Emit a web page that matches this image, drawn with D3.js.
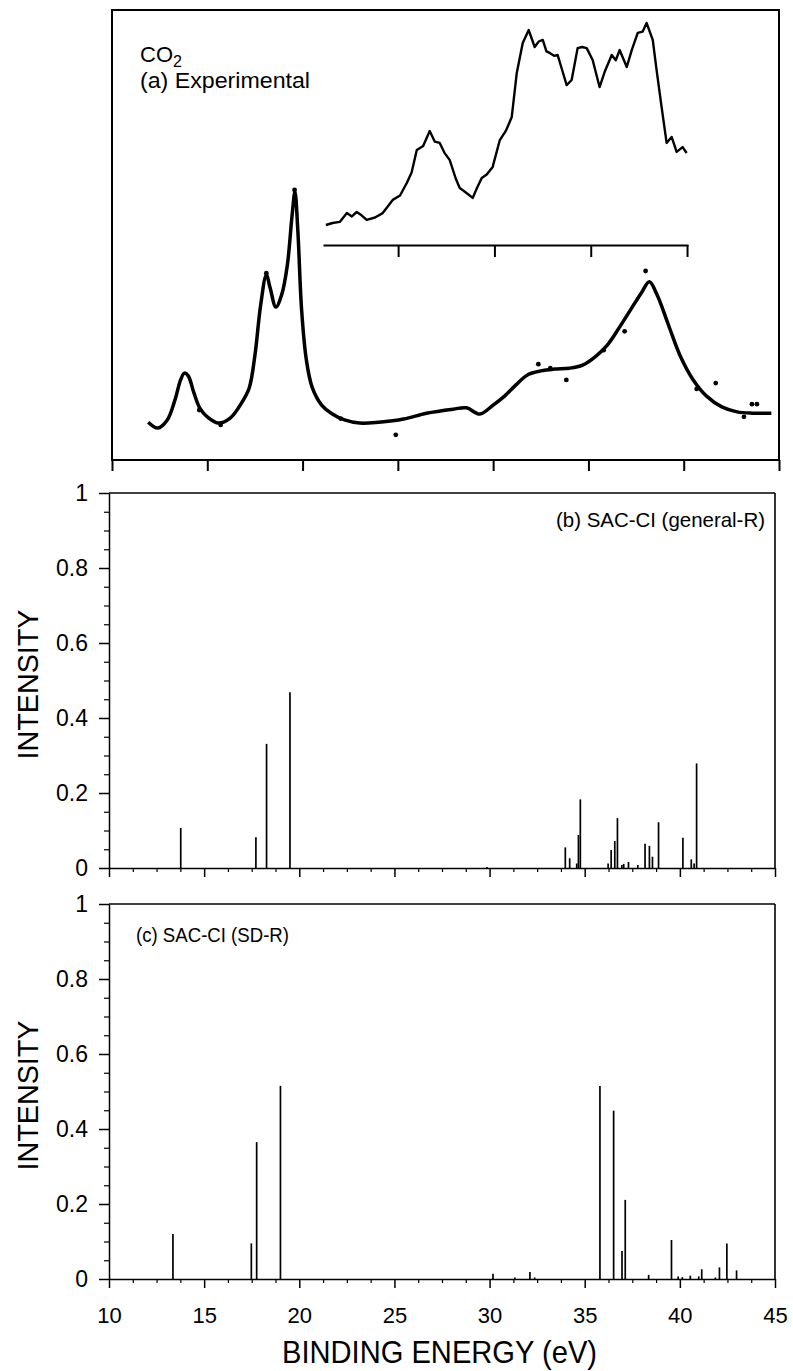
<!DOCTYPE html>
<html><head><meta charset="utf-8">
<script src="https://cdn.jsdelivr.net/npm/d3@7"></script>
<style>
body{margin:0;background:#fff}
svg{display:block}
text{font-family:"Liberation Sans",Arial,Helvetica,sans-serif;fill:#000}
</style>
</head><body>
<svg id="chart" width="793" height="1371"></svg>
<script>
// ---------- DATA ----------
// (a) experimental main curve: binding energy (eV), intensity (arb. units)
const expE = [11.9,12.4,12.9,13.3,13.6,13.8,14.0,14.3,14.6,15.0,15.6,16.2,16.8,17.2,17.5,17.8,18.1,18.3,18.6,18.9,19.2,19.45,19.6,19.75,19.95,20.2,20.5,21.0,21.5,22.2,23.0,24.0,25.3,26.5,27.9,28.6,29.3,30.0,30.6,31.2,31.8,32.5,33.2,34.0,34.7,35.4,36.0,36.6,37.2,37.8,38.2,38.6,39.2,39.8,40.5,41.2,42.0,42.8,43.6,44.6];
const expI = [8.4,7.1,8.9,13.3,17.8,19.3,18.7,14.9,11.6,9.6,8.2,9.3,12.7,16.0,23.3,34.4,41.1,38.2,34.0,36.7,43.3,54.4,59.6,51.1,33.3,22.2,16.2,12.2,10.4,8.9,8.2,8.4,9.1,10.4,11.3,11.6,10.2,12.2,14.2,16.7,18.9,19.8,20.2,20.4,21.1,23.1,25.6,29.3,33.3,37.3,39.6,36.7,30.0,23.3,17.8,14.2,11.8,10.7,10.4,10.4];
// (a) scattered measured points
const dotE = [19.58,14.58,24.89,32.37,33.84,38.0,40.68,41.68,43.58,43.84,43.16,33.0,35.8,15.7,18.1,22.0,36.9];
const dotI = [60.0,11.1,5.6,21.3,17.8,42.0,15.8,17.1,12.4,12.4,9.6,20.4,24.4,7.8,41.5,9.2,28.6];
// (a) inset curve
const insE = [21.25,21.6,21.97,22.34,22.6,22.85,23.1,23.37,23.8,24.2,24.72,25.1,25.45,25.7,25.97,26.3,26.64,26.9,27.16,27.4,27.68,28.0,28.2,28.5,28.87,29.1,29.34,29.6,29.91,30.28,30.6,30.9,31.16,31.47,31.78,32.09,32.3,32.51,32.7,32.87,33.1,33.28,33.5,33.75,34.01,34.32,34.55,34.79,35.1,35.46,35.72,36.09,36.3,36.5,36.87,37.13,37.44,37.7,37.9,38.22,38.42,38.68,38.94,39.2,39.46,39.77,39.98];
const insI = [9.1,10.0,10.5,14.5,13.0,15.0,13.5,11.4,12.5,14.5,20.5,22.5,28.2,33.0,43.2,45.0,51.8,47.0,46.4,42.0,38.6,30.0,25.9,24.0,21.4,26.0,30.5,32.0,35.5,47.7,52.0,58.2,78.2,91.8,97.7,90.0,92.5,93.2,88.0,87.3,86.0,86.4,80.0,72.7,75.0,89.5,90.0,89.5,84.1,71.8,78.6,86.4,84.0,88.6,80.9,88.6,96.4,97.0,100.9,93.2,79.5,62.7,46.4,49.1,42.3,44.5,41.8];
const insTicks = [25,30,35,40];
// (b) SAC-CI (general-R)
const genE = [13.77,17.72,18.28,19.51,29.86,33.98,34.21,34.58,34.67,34.77,36.23,36.39,36.58,36.72,36.95,37.05,37.3,37.79,38.17,38.4,38.56,38.88,40.16,40.6,40.75,40.88];
const genI = [0.107,0.082,0.331,0.469,0.003,0.055,0.026,0.012,0.088,0.183,0.012,0.048,0.072,0.133,0.008,0.011,0.016,0.008,0.065,0.059,0.030,0.122,0.081,0.023,0.012,0.279];
// (c) SAC-CI (SD-R)
const sdE = [13.36,17.48,17.76,19.01,30.18,31.33,32.12,32.37,35.8,36.52,36.96,37.13,38.36,39.56,39.91,40.13,40.55,40.99,41.15,41.87,42.08,42.47,42.98];
const sdI = [0.12,0.095,0.365,0.515,0.014,0.004,0.019,0.004,0.515,0.449,0.075,0.211,0.011,0.104,0.007,0.005,0.009,0.007,0.026,0.004,0.031,0.095,0.023];
// ticks
const xMajor = [10,15,20,25,30,35,40,45];
const xMinor = [11.25,12.5,13.75,16.25,17.5,18.75,21.25,22.5,23.75,26.25,27.5,28.75,31.25,32.5,33.75,36.25,37.5,38.75,41.25,42.5,43.75];
const yMajor = [0,0.2,0.4,0.6,0.8,1];
const yMinor = [0.05,0.1,0.15,0.25,0.3,0.35,0.45,0.5,0.55,0.65,0.7,0.75,0.85,0.9,0.95];

// ---------- DRAW ----------
const svg = d3.select("#chart");

// Panel (a)
const xA = d3.scaleLinear().domain([10,45]).range([112,779]);
const yA = d3.scaleLinear().domain([0,100]).range([460,10]);
svg.append("rect").attr("x",112).attr("y",10).attr("width",667).attr("height",450)
  .attr("fill","none").attr("stroke","#000").attr("stroke-width",2);
const axA = svg.append("g").attr("transform","translate(0,460)")
  .call(d3.axisBottom(xA).tickValues(xMajor).tickSize(11).tickSizeOuter(0).tickFormat(""));
axA.select(".domain").remove();
axA.selectAll("line").attr("stroke","#000").attr("stroke-width",2);

const expData = expE.map((e,i)=>[e,expI[i]]);
svg.append("path").datum(expData)
  .attr("d", d3.line().x(d=>xA(d[0])).y(d=>yA(d[1])).curve(d3.curveCatmullRom))
  .attr("fill","none").attr("stroke","#000").attr("stroke-width",3.5).attr("stroke-linejoin","round");
svg.append("g").selectAll("circle").data(dotE.map((e,i)=>[e,dotI[i]])).join("circle")
  .attr("cx",d=>xA(d[0])).attr("cy",d=>yA(d[1])).attr("r",2.4).attr("fill","#000");

// inset
const xI = d3.scaleLinear().domain([21.1,40.05]).range([323,688]);
const yI = d3.scaleLinear().domain([0,100]).range([245,25]);
const axI = svg.append("g").attr("transform","translate(0,245)")
  .call(d3.axisBottom(xI).tickValues(insTicks).tickSize(12).tickSizeOuter(0).tickFormat(""));
axI.selectAll("line,path").attr("stroke","#000").attr("stroke-width",2);
svg.append("path").datum(insE.map((e,i)=>[e,insI[i]]))
  .attr("d", d3.line().x(d=>xI(d[0])).y(d=>yI(d[1])))
  .attr("fill","none").attr("stroke","#000").attr("stroke-width",2.4).attr("stroke-linejoin","round");

const tA = svg.append("text").attr("x",140).attr("y",62).style("font-size","22px");
tA.append("tspan").text("CO");
tA.append("tspan").attr("dy",5).style("font-size","16px").text("2");
svg.append("text").attr("x",140).attr("y",88).style("font-size","22px")
  .attr("textLength",170).attr("lengthAdjust","spacingAndGlyphs").text("(a) Experimental");

// Panels (b) and (c)
const xB = d3.scaleLinear().domain([10,45]).range([109,775]);
function panel(top, bottom, E, I, label, lx, ly, lw, showX){
  const y = d3.scaleLinear().domain([0,1]).range([bottom,top]);
  const g = svg.append("g");
  g.append("line").attr("x1",109).attr("x2",775).attr("y1",top).attr("y2",top).attr("stroke","#000").attr("stroke-width",1.4);
  g.append("line").attr("x1",775).attr("x2",775).attr("y1",top).attr("y2",bottom).attr("stroke","#000").attr("stroke-width",1.6);
  g.append("g").selectAll("line").data(E.map((e,i)=>[e,I[i]])).join("line")
    .attr("x1",d=>xB(d[0])).attr("x2",d=>xB(d[0]))
    .attr("y1",y(0)).attr("y2",d=>y(d[1]))
    .attr("stroke","#000").attr("stroke-width",1.7);
  const ax = g.append("g").attr("transform",`translate(0,${bottom})`)
    .call(d3.axisBottom(xB).tickValues(xMajor).tickSize(9).tickSizeOuter(0)
      .tickFormat(showX ? d3.format("d") : ""));
  ax.selectAll("line,path").attr("stroke","#000").attr("stroke-width",1.5);
  ax.selectAll("text").attr("y",28).style("font-size","22px").style("font-family",'"Liberation Sans",Arial,sans-serif');
  const axm = g.append("g").attr("transform",`translate(0,${bottom})`)
    .call(d3.axisBottom(xB).tickValues(xMinor).tickSize(4).tickFormat(""));
  axm.select(".domain").remove();
  axm.selectAll("line").attr("stroke","#000").attr("stroke-width",1.2);
  const ay = g.append("g").attr("transform","translate(109,0)")
    .call(d3.axisLeft(y).tickValues(yMajor).tickSize(10).tickSizeOuter(0).tickFormat(d3.format("~g")));
  ay.selectAll("line,path").attr("stroke","#000").attr("stroke-width",1.5);
  ay.selectAll("text").attr("x",-21).style("font-size","23px").style("font-family",'"Liberation Sans",Arial,sans-serif');
  const aym = g.append("g").attr("transform","translate(109,0)")
    .call(d3.axisLeft(y).tickValues(yMinor).tickSize(5).tickFormat(""));
  aym.select(".domain").remove();
  aym.selectAll("line").attr("stroke","#000").attr("stroke-width",1.2);
  g.append("text").attr("x",lx).attr("y",ly).style("font-size","21px")
    .attr("textLength",lw).attr("lengthAdjust","spacingAndGlyphs").text(label);
  const cy = (top+bottom)/2 + 4;
  g.append("text").attr("transform",`translate(38,${cy}) rotate(-90)`).attr("text-anchor","middle")
    .style("font-size","30px").attr("textLength",150).attr("lengthAdjust","spacingAndGlyphs").text("INTENSITY");
}
panel(493, 868, genE, genI, "(b) SAC-CI (general-R)", 556, 527, 209, false);
panel(904, 1279, sdE, sdI, "(c) SAC-CI (SD-R)", 136, 942, 153, true);

svg.append("text").attr("x",439.5).attr("y",1363).attr("text-anchor","middle").style("font-size","32px")
  .attr("textLength",315).attr("lengthAdjust","spacingAndGlyphs").text("BINDING ENERGY (eV)");
</script>
</body></html>
